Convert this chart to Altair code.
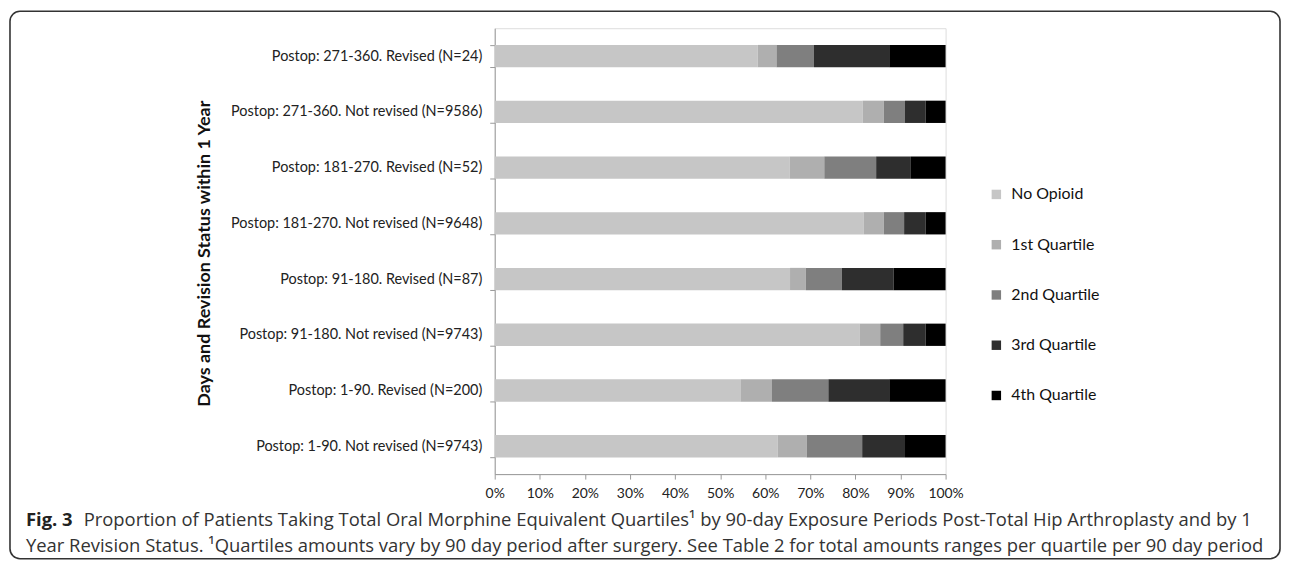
import altair as alt
import pandas as pd

categories = [
    "Postop: 271-360. Revised (N=24)",
    "Postop: 271-360. Not revised (N=9586)",
    "Postop: 181-270. Revised (N=52)",
    "Postop: 181-270. Not revised (N=9648)",
    "Postop: 91-180. Revised (N=87)",
    "Postop: 91-180. Not revised (N=9743)",
    "Postop: 1-90. Revised (N=200)",
    "Postop: 1-90. Not revised (N=9743)",
]
series = ["No Opioid", "1st Quartile", "2nd Quartile", "3rd Quartile", "4th Quartile"]
no_opioid = [58.3, 81.6, 65.4, 81.8, 65.5, 81.0, 54.5, 62.8]
q1 = [4.2, 4.7, 7.7, 4.5, 3.5, 4.5, 7.0, 6.4]
q2 = [8.3, 4.7, 11.5, 4.5, 8.0, 5.1, 12.5, 12.3]
q3 = [16.7, 4.6, 7.7, 4.8, 11.5, 5.0, 13.5, 9.5]
q4 = [12.5, 4.4, 7.7, 4.4, 11.5, 4.4, 12.5, 9.0]
colors = ["#c6c6c6", "#afafaf", "#7f7f7f", "#2e2e2e", "#000000"]
x_ticks = [0, 0.1, 0.2, 0.3, 0.4, 0.5, 0.6, 0.7, 0.8, 0.9, 1.0]

caption_bold = "Fig. 3"
caption_line1 = ("Proportion of Patients Taking Total Oral Morphine Equivalent Quartiles\u00b9 "
                 "by 90-day Exposure Periods Post-Total Hip Arthroplasty and by 1")
caption_line2 = ("Year Revision Status. \u00b9Quartiles amounts vary by 90 day period after surgery. "
                 "See Table 2 for total amounts ranges per quartile per 90 day period")

rows = []
for si, (name, vals) in enumerate(zip(series, [no_opioid, q1, q2, q3, q4])):
    for cat, v in zip(categories, vals):
        rows.append({"category": cat, "series": name, "order": si, "value": v / 100.0})
df = pd.DataFrame(rows)

FONT = "Lato"
CAPFONT = "Open Sans"

bars = alt.Chart(df).mark_bar().encode(
    y=alt.Y("category:N", sort=categories,
            scale=alt.Scale(paddingInner=0.6, paddingOuter=0.3),
            axis=alt.Axis(title="Days and Revision Status within 1 Year",
                          titleFont=FONT, titleFontSize=18, titleFontWeight="bold",
                          titleColor="#111", titleAngle=270, titleX=-292, titleY=226,
                          titleAlign="center", titleBaseline="middle",
                          labelFont=FONT, labelFontSize=14.5, labelColor="#222",
                          labelLimit=400, labelPadding=8, tickSize=5, tickBand="extent",
                          tickColor="#999", domainColor="#999")),
    x=alt.X("value:Q", stack="zero",
            scale=alt.Scale(domain=[0, 1], nice=False),
            axis=alt.Axis(title=None, values=x_ticks, format=".0%", grid=False,
                          labelFont=FONT, labelFontSize=14, labelColor="#222",
                          labelOverlap=False, labelFlush=False, labelPadding=8,
                          tickSize=5, tickColor="#999", domainColor="#999")),
    color=alt.Color("series:N", sort=series,
                    scale=alt.Scale(domain=series, range=colors),
                    legend=alt.Legend(title=None, orient="none", legendX=496, legendY=159,
                                      labelFont=FONT, labelFontSize=16, labelColor="#111",
                                      symbolType="square", symbolSize=90,
                                      symbolStrokeWidth=0, rowPadding=34.5,
                                      labelOffset=7)),
    order=alt.Order("order:Q", sort="ascending"),
)

one = pd.DataFrame({"k": [0]})

border = alt.Chart(one).mark_rect(filled=False, stroke="#333", strokeWidth=1.6,
                                  cornerRadius=10).encode(
    x=alt.value(-487), x2=alt.value(789), y=alt.value(-17), y2=alt.value(533))

cap_bold = alt.Chart(one).mark_text(align="left", baseline="alphabetic", font=CAPFONT,
                                    fontSize=18.5, fontWeight="bold", color="#222").encode(
    x=alt.value(-471), y=alt.value(500), text=alt.value(caption_bold))
cap1 = alt.Chart(one).mark_text(align="left", baseline="alphabetic", font=CAPFONT,
                                fontSize=18.5, color="#333").encode(
    x=alt.value(-413), y=alt.value(500), text=alt.value(caption_line1))
cap2 = alt.Chart(one).mark_text(align="left", baseline="alphabetic", font=CAPFONT,
                                fontSize=18.5, color="#333").encode(
    x=alt.value(-471), y=alt.value(526), text=alt.value(caption_line2))

chart = alt.layer(bars, border, cap_bold, cap1, cap2).properties(
    width=453, height=448,
    autosize=alt.AutoSizeParams(type="none"),
    padding={"left": 489, "top": 19, "right": 338, "bottom": 86},
).configure_view(stroke=None).configure(background="white")

chart.save("out.html", embed_options={"renderer": "svg", "actions": False})
